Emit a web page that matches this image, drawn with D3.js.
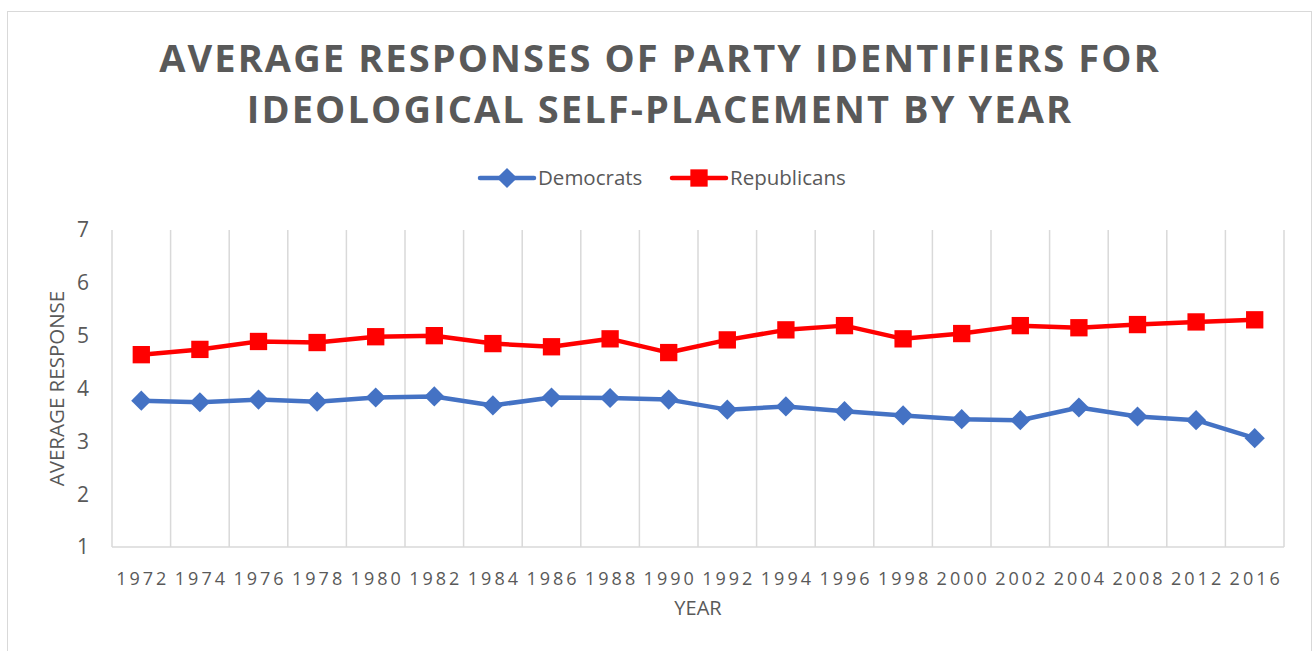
<!DOCTYPE html>
<html>
<head>
<meta charset="utf-8">
<script src="https://cdn.jsdelivr.net/npm/d3@7"></script>
<style>
  body { margin: 0; background: #fff; }
  text { font-family: "Open Sans", sans-serif; fill: #595959; }
</style>
</head>
<body>
<div id="chart"></div>
<script>
// data
var years = ["1972","1974","1976","1978","1980","1982","1984","1986","1988","1990",
             "1992","1994","1996","1998","2000","2002","2004","2008","2012","2016"];
var democrats = [3.77,3.74,3.79,3.75,3.83,3.85,3.68,3.83,3.82,3.79,
                 3.60,3.66,3.57,3.49,3.42,3.40,3.64,3.47,3.40,3.06];
var republicans = [4.64,4.74,4.89,4.87,4.98,5.00,4.85,4.79,4.94,4.68,
                   4.92,5.11,5.19,4.94,5.04,5.19,5.15,5.21,5.26,5.30];
var yTicks = [1,2,3,4,5,6,7];
var titleLines = ["AVERAGE RESPONSES OF PARTY IDENTIFIERS FOR",
                  "IDEOLOGICAL SELF-PLACEMENT BY YEAR"];

var W = 1313, H = 651;
var margin = {top: 230, right: 29, bottom: 104, left: 112},
    width = W - margin.left - margin.right,
    height = H - margin.top - margin.bottom;

var svg = d3.select("#chart").append("svg")
    .attr("width", W)
    .attr("height", H);

// chart frame
svg.append("rect")
    .attr("x", 7.5).attr("y", 11.5)
    .attr("width", 1304).attr("height", 660)
    .attr("fill", "none")
    .attr("stroke", "#d9d9d9");

// title
svg.selectAll(".title")
    .data(titleLines)
    .enter().append("text")
    .attr("class", "title")
    .attr("x", 660)
    .attr("y", function(d, i) { return 72 + i * 51; })
    .attr("text-anchor", "middle")
    .style("font-size", "38px")
    .style("font-weight", "bold")
    .style("letter-spacing", "2.1px")
    .text(function(d) { return d; });

var x = d3.scaleBand().domain(years).range([0, width]);
var y = d3.scaleLinear().domain([1, 7]).range([height, 0]);

var g = svg.append("g")
    .attr("transform", "translate(" + margin.left + "," + margin.top + ")");

// vertical category gridlines
var edges = years.map(function(d) { return x(d); }).concat([width]);
g.selectAll(".vgrid")
    .data(edges.slice(1))
    .enter().append("line")
    .attr("x1", function(d) { return d; })
    .attr("x2", function(d) { return d; })
    .attr("y1", 0)
    .attr("y2", height)
    .attr("stroke", "#d9d9d9")
    .attr("stroke-width", 1.5);

// left axis line + bottom axis line
g.append("line")
    .attr("x1", 0).attr("x2", 0).attr("y1", 0).attr("y2", height)
    .attr("stroke", "#d9d9d9").attr("stroke-width", 1.5);
g.append("line")
    .attr("x1", 0).attr("x2", width).attr("y1", height).attr("y2", height)
    .attr("stroke", "#d9d9d9").attr("stroke-width", 1.5);

// y tick labels
g.selectAll(".ylab")
    .data(yTicks)
    .enter().append("text")
    .attr("x", -23)
    .attr("y", function(d) { return y(d); })
    .attr("dy", "0.35em")
    .attr("text-anchor", "end")
    .style("font-size", "21px")
    .text(function(d) { return d; });

// x tick labels
g.selectAll(".xlab")
    .data(years)
    .enter().append("text")
    .attr("x", function(d) { return x(d) + x.bandwidth() / 2 + 1.5; })
    .attr("y", height + 38)
    .attr("text-anchor", "middle")
    .style("font-size", "18px")
    .style("letter-spacing", "3px")
    .text(function(d) { return d; });

// axis titles
svg.append("text")
    .attr("x", margin.left + width / 2)
    .attr("y", 615)
    .attr("text-anchor", "middle")
    .style("font-size", "20px")
    .text("YEAR");

svg.append("text")
    .attr("transform", "translate(64," + (margin.top + height / 2) + ") rotate(-90)")
    .attr("text-anchor", "middle")
    .style("font-size", "20.5px")
    .text("AVERAGE RESPONSE");

var line = d3.line()
    .x(function(d, i) { return x(years[i]) + x.bandwidth() / 2; })
    .y(function(d) { return y(d); });

var diamond = d3.symbol().type(d3.symbolDiamond2).size(260);
var square = d3.symbol().type(d3.symbolSquare).size(300);

// Democrats
g.append("path")
    .datum(democrats)
    .attr("d", line)
    .attr("fill", "none")
    .attr("stroke", "#4472c4")
    .attr("stroke-width", 4.5)
    .attr("stroke-linejoin", "round");

g.selectAll(".dem")
    .data(democrats)
    .enter().append("path")
    .attr("transform", function(d, i) {
        return "translate(" + (x(years[i]) + x.bandwidth() / 2) + "," + y(d) + ")";
    })
    .attr("d", diamond)
    .attr("fill", "#4472c4");

// Republicans
g.append("path")
    .datum(republicans)
    .attr("d", line)
    .attr("fill", "none")
    .attr("stroke", "#ff0000")
    .attr("stroke-width", 4.5)
    .attr("stroke-linejoin", "round");

g.selectAll(".rep")
    .data(republicans)
    .enter().append("path")
    .attr("transform", function(d, i) {
        return "translate(" + (x(years[i]) + x.bandwidth() / 2) + "," + y(d) + ")";
    })
    .attr("d", square)
    .attr("fill", "#ff0000");

// legend
var legend = [
    {name: "Democrats", color: "#4472c4", sym: diamond, x: 480},
    {name: "Republicans", color: "#ff0000", sym: square, x: 672}
];
var lg = svg.selectAll(".legend")
    .data(legend)
    .enter().append("g")
    .attr("transform", function(d) { return "translate(" + d.x + ",178)"; });

lg.append("line")
    .attr("x1", 0).attr("x2", 54)
    .attr("stroke", function(d) { return d.color; })
    .attr("stroke-width", 4.5)
    .attr("stroke-linecap", "round");
lg.append("path")
    .attr("transform", "translate(27,0)")
    .attr("d", function(d) { return d.sym(); })
    .attr("fill", function(d) { return d.color; });
lg.append("text")
    .attr("x", 58)
    .attr("dy", "0.35em")
    .style("font-size", "20.5px")
    .text(function(d) { return d.name; });
</script>
</body>
</html>
